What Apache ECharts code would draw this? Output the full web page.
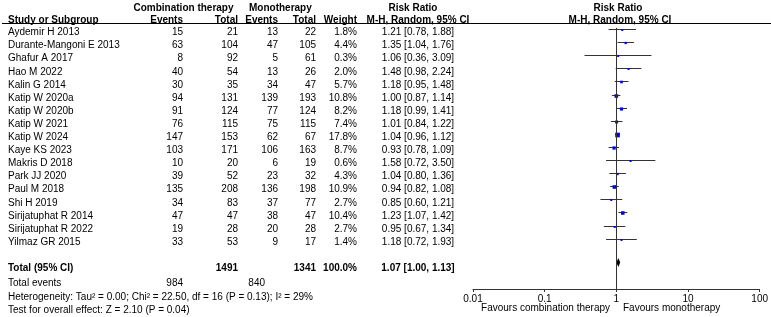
<!DOCTYPE html>
<html><head><meta charset="utf-8">
<script src="https://cdn.jsdelivr.net/npm/echarts@6/dist/echarts.min.js"></script>
<style>html,body{margin:0;padding:0;background:#fff}#c{width:771px;height:317px}</style>
</head><body><div id="c"></div>
<script>
const studies = ['Aydemir H 2013','Durante-Mangoni E 2013','Ghafur A 2017','Hao M 2022','Kalin G 2014','Katip W 2020a','Katip W 2020b','Katip W 2021','Katip W 2024','Kaye KS 2023','Makris D 2018','Park JJ 2020','Paul M 2018','Shi H 2019','Sirijatuphat R 2014','Sirijatuphat R 2022','Yilmaz GR 2015'];
const combEvents = [15,63,8,40,30,94,91,76,147,103,10,39,135,34,47,19,33];
const combTotal = [21,104,92,54,35,131,124,115,153,171,20,52,208,83,47,28,53];
const monoEvents = [13,47,5,13,34,139,77,75,62,106,6,23,136,37,38,20,9];
const monoTotal = [22,105,61,26,47,193,124,115,67,163,19,32,198,77,47,28,17];
const weights = [1.8,4.4,0.3,2.0,5.7,10.8,8.2,7.4,17.8,8.7,0.6,4.3,10.9,2.7,10.4,2.7,1.4];
const rr = [1.21,1.35,1.06,1.48,1.18,1.00,1.18,1.01,1.04,0.93,1.58,1.04,0.94,0.85,1.23,0.95,1.18];
const ciLow = [0.78,1.04,0.36,0.98,0.95,0.87,0.99,0.84,0.96,0.78,0.72,0.80,0.82,0.60,1.07,0.67,0.72];
const ciHigh = [1.88,1.76,3.09,2.24,1.48,1.14,1.41,1.22,1.12,1.09,3.50,1.36,1.08,1.21,1.42,1.34,1.93];
const pooled = [1.07, 1.00, 1.13];
const totalComb = 1491, totalMono = 1341, totalWeight = 100.0;
const eventsComb = 984, eventsMono = 840;
const heterogeneityText = 'Heterogeneity: Tau² = 0.00; Chi² = 22.50, df = 16 (P = 0.13); I² = 29%';
const overallText = 'Test for overall effect: Z = 2.10 (P = 0.04)';
const tickValues = [0.01, 0.1, 1, 10, 100];
const tickLabels = ['0.01', '0.1', '1', '10', '100'];

const FONT = '"Liberation Sans", Arial, sans-serif';
const g = [];
function txt(s, x, y, align, bold) {
  g.push({type:'text', x:x, y:y, silent:true, style:{text:String(s), align:align||'left', verticalAlign:'middle',
    font:(bold?'bold ':'')+'10px '+FONT, fill:'#000'}});
}
const rowY = i => 32.5 + 13.1 * i;
const C = {study:8, ce:183, ct:238, me:278, mt:316, w:357, ci:418};
// headers
txt('Combination therapy', 183.5, 8, 'center', true);
txt('Monotherapy', 249, 8, 'left', true);
txt('Risk Ratio', 413, 8, 'center', true);
txt('Risk Ratio', 618, 8, 'center', true);
txt('Study or Subgroup', C.study, 20, 'left', true);
txt('Events', C.ce, 20, 'right', true);
txt('Total', C.ct, 20, 'right', true);
txt('Events', C.me, 20, 'right', true);
txt('Total', C.mt, 20, 'right', true);
txt('Weight', C.w, 20, 'right', true);
txt('M-H, Random, 95% CI', C.ci, 20, 'center', true);
txt('M-H, Random, 95% CI', 620, 20, 'center', true);
g.push({type:'line', silent:true, shape:{x1:2, y1:23.5, x2:771, y2:23.5}, style:{stroke:'#000', lineWidth:1}});
studies.forEach((s, i) => {
  const y = rowY(i);
  txt(s, C.study, y, 'left');
  txt(combEvents[i], C.ce, y, 'right');
  txt(combTotal[i], C.ct, y, 'right');
  txt(monoEvents[i], C.me, y, 'right');
  txt(monoTotal[i], C.mt, y, 'right');
  txt(weights[i].toFixed(1) + '%', C.w, y, 'right');
  txt(rr[i].toFixed(2) + ' [' + ciLow[i].toFixed(2) + ', ' + ciHigh[i].toFixed(2) + ']', C.ci, y, 'center');
});
const ty = rowY(18);
txt('Total (95% CI)', C.study, ty, 'left', true);
txt(totalComb, C.ct, ty, 'right', true);
txt(totalMono, C.mt, ty, 'right', true);
txt(totalWeight.toFixed(1) + '%', C.w, ty, 'right', true);
txt(pooled[0].toFixed(2) + ' [' + pooled[1].toFixed(2) + ', ' + pooled[2].toFixed(2) + ']', C.ci, ty, 'center', true);
txt('Total events', C.study, 283, 'left');
txt(eventsComb, C.ce, 283, 'right');
txt(eventsMono, 265, 283, 'right');
txt(heterogeneityText, C.study, 297, 'left');
txt(overallText, C.study, 310, 'left');
txt('Favours combination therapy', 610, 308, 'right');
txt('Favours monotherapy', 623, 308, 'left');

const rowData = studies.map((s, i) => [rr[i], ciLow[i], ciHigh[i], i, weights[i]]);
const chart = echarts.init(document.getElementById('c'), null, {renderer:'canvas'});
chart.setOption({
  animation:false,
  backgroundColor:'#fff',
  grid:{left:473, width:289, top:24, height:265, containLabel:false},
  xAxis:{type:'log', logBase:10, min:0.01, max:100, splitNumber:4,
    axisLine:{show:true, onZero:false, lineStyle:{color:'#333', width:1}},
    axisTick:{show:true, inside:false, length:3, lineStyle:{color:'#333'}},
    axisLabel:{margin:5, fontSize:10, fontFamily:FONT, color:'#000',
      formatter:v => { const k = tickValues.findIndex(t => Math.abs(Math.log10(t) - Math.log10(v)) < 1e-6); return k >= 0 ? tickLabels[k] : ''; }},
    splitLine:{show:false}, minorTick:{show:false}},
  yAxis:{type:'value', inverse:true, min:-0.3817, max:19.847, show:false},
  series:[
    {type:'custom', data:rowData, encode:{x:[0,1,2], y:3}, silent:true, clip:false,
     renderItem:(params, api) => {
       const y = api.value(3);
       const a = api.coord([api.value(1), y]);
       const b = api.coord([api.value(2), y]);
       const m = api.coord([api.value(0), y]);
       const s = Math.max(2, 1.1 * Math.sqrt(api.value(4)));
       const ly = Math.round(a[1]) + 0.5;
       return {type:'group', children:[
         {type:'line', shape:{x1:a[0], y1:ly, x2:b[0], y2:ly}, style:{stroke:'#333', lineWidth:1}},
         {type:'rect', shape:{x:m[0]-s/2, y:ly+0.5-s/2, width:s, height:s}, style:{fill:'#0000ff'}}
       ]};
     },
     markLine:{silent:true, symbol:'none', label:{show:false}, lineStyle:{color:'#333', width:1, type:'solid'},
       data:[[{coord:[1, -0.08]}, {coord:[1, 19.847]}]]}
    },
    {type:'custom', data:[[pooled[0], pooled[1], pooled[2], 17.82]], encode:{x:[0,1,2], y:3}, silent:true,
     renderItem:(params, api) => {
       const y = api.value(3);
       const a = api.coord([api.value(1), y]);
       const b = api.coord([api.value(2), y]);
       const m = api.coord([api.value(0), y]);
       return {type:'polygon', shape:{points:[[a[0], a[1]], [m[0], m[1]-4.5], [b[0], b[1]], [m[0], m[1]+4.5]]},
         style:{fill:'#000'}};
     }}
  ],
  graphic:g
});
</script></body></html>
